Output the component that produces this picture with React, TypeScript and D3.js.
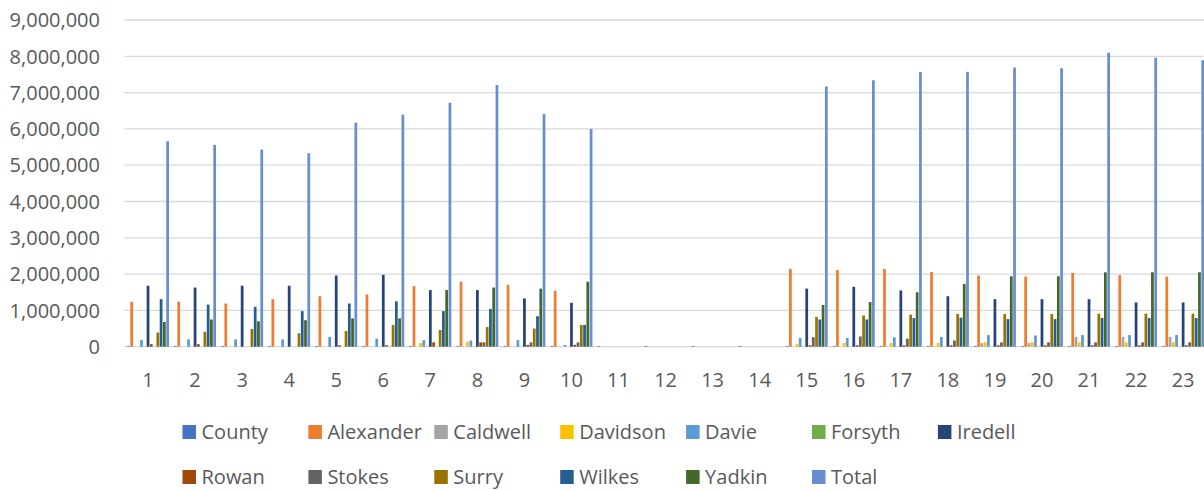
import React from "react";
import * as d3 from "d3";

const categories = ["1","2","3","4","5","6","7","8","9","10","11","12","13","14","15","16","17","18","19","20","21","22","23"];

const seriesNames = ["County","Alexander","Caldwell","Davidson","Davie","Forsyth","Iredell","Rowan","Stokes","Surry","Wilkes","Yadkin","Total"];

const seriesColors = ["#4472C4","#ED7D31","#A5A5A5","#FFC000","#5B9BD5","#70AD47","#264478","#9E480E","#636363","#997300","#255E91","#43682B","#698ED0"];

// values in millions
const county =    [0.02,0.02,0.02,0.02,0.02,0.02,0.02,0.02,0.02,0.02,0.02,0.02,0.02,0.02,0.02,0.02,0.02,0.02,0.02,0.02,0.02,0.02,0.02];
const alexander = [1.24,1.24,1.19,1.31,1.39,1.44,1.67,1.79,1.70,1.54,0,0,0,0,2.14,2.11,2.14,2.06,1.96,1.93,2.03,1.97,1.93];
const caldwell =  [0,0,0,0,0,0,0,0,0,0,0,0,0,0,0,0,0,0,0.10,0.10,0.27,0.27,0.27];
const davidson =  [0,0,0,0,0,0,0.10,0.14,0,0,0,0,0,0,0.07,0.10,0.10,0.10,0.12,0.12,0.12,0.12,0.12];
const davie =     [0.18,0.20,0.20,0.20,0.27,0.22,0.18,0.17,0.18,0.05,0,0,0,0,0.24,0.24,0.26,0.27,0.32,0.31,0.32,0.32,0.32];
const forsyth =   [0,0,0,0,0,0,0,0,0,0,0,0,0,0,0,0,0,0,0,0,0,0,0];
const iredell =   [1.68,1.63,1.68,1.68,1.96,1.98,1.56,1.56,1.33,1.21,0,0,0,0,1.60,1.65,1.55,1.39,1.31,1.31,1.31,1.22,1.22];
const rowan =     [0.07,0.07,0,0,0.04,0.04,0.12,0.12,0.05,0.05,0,0,0,0,0.04,0.04,0.04,0.04,0.04,0.04,0.04,0.04,0.04];
const stokes =    [0,0,0,0,0,0,0,0.12,0.12,0.12,0,0,0,0,0.26,0.28,0.22,0.17,0.12,0.12,0.12,0.12,0.12];
const surry =     [0.39,0.41,0.49,0.37,0.43,0.60,0.46,0.54,0.50,0.60,0,0,0,0,0.82,0.86,0.88,0.90,0.90,0.90,0.91,0.91,0.91];
const wilkes =    [1.31,1.16,1.10,0.98,1.19,1.25,0.98,1.04,0.84,0.60,0,0,0,0,0.75,0.75,0.79,0.80,0.76,0.76,0.79,0.79,0.79];
const yadkin =    [0.68,0.75,0.70,0.73,0.78,0.78,1.56,1.63,1.60,1.79,0,0,0,0,1.15,1.23,1.50,1.73,1.94,1.94,2.05,2.05,2.05];
const total =     [5.66,5.56,5.43,5.33,6.17,6.39,6.72,7.21,6.41,6.00,0,0,0,0,7.17,7.34,7.57,7.57,7.69,7.67,8.10,7.96,7.89];

const seriesValues = [county, alexander, caldwell, davidson, davie, forsyth, iredell, rowan, stokes, surry, wilkes, yadkin, total];

const yTicks = [0, 1, 2, 3, 4, 5, 6, 7, 8, 9];
const UNIT = 1e6;

const W = 1204;
const H = 490;
const plotLeft = 124.5;
const catStep = 47.05;
const plotTop = 20;
const plotBottom = 346.7;

const FONT = "'Open Sans', 'Noto Sans', sans-serif";
const TEXT = "#595959";

export default function App() {
  const x = d3.scaleBand<string>().domain(categories).range([plotLeft, plotLeft + catStep * categories.length]).padding(0);
  const xs = d3.scaleBand<string>().domain(seriesNames).range([0, x.bandwidth()]).paddingInner(0).paddingOuter(0.7);
  const y = d3.scaleLinear().domain([0, 9 * UNIT]).range([plotBottom, plotTop]);
  const fmt = d3.format(",");
  const bw = xs.bandwidth() * 0.84;

  const legendRows = [seriesNames.slice(0, 7), seriesNames.slice(7)];
  const legendX0 = 182.5;
  const legendStep = 125.9;
  const legendY = [432, 477];

  return (
    <svg width={W} height={H} style={{ position: "absolute", left: 0, top: 0, background: "#fff" }}>
      <rect x={0} y={0} width={W} height={H} fill="#fff" />
      {yTicks.map((t) => (
        <g key={t}>
          <line x1={plotLeft} x2={W} y1={y(t * UNIT)} y2={y(t * UNIT)} stroke="#D9D9D9" strokeWidth={1.3} />
          <text x={100} y={y(t * UNIT)} dy="0.36em" textAnchor="end" fontFamily={FONT} fontSize={20} fill={TEXT}>
            {fmt(t * UNIT)}
          </text>
        </g>
      ))}
      {categories.map((c, ci) => (
        <g key={c} transform={`translate(${x(c)},0)`}>
          {seriesNames.map((s, si) => {
            const v = seriesValues[si][ci] * UNIT;
            if (v <= 0) return null;
            const cx = (xs(s) as number) + xs.bandwidth() / 2;
            return (
              <rect key={s} x={cx - bw / 2} y={y(v)} width={bw} height={plotBottom - y(v)} fill={seriesColors[si]} />
            );
          })}
          <text x={x.bandwidth() / 2} y={380} dy="0.36em" textAnchor="middle" fontFamily={FONT} fontSize={20} fill={TEXT}>
            {c}
          </text>
        </g>
      ))}
      {legendRows.map((row, ri) =>
        row.map((s, i) => {
          const si = ri * 7 + i;
          const lx = legendX0 + i * legendStep;
          const ly = legendY[ri];
          return (
            <g key={s}>
              <rect x={lx} y={ly - 7} width={13.5} height={14} fill={seriesColors[si]} />
              <text x={lx + 19} y={ly} dy="0.36em" fontFamily={FONT} fontSize={20} fill={TEXT}>
                {s}
              </text>
            </g>
          );
        })
      )}
    </svg>
  );
}
